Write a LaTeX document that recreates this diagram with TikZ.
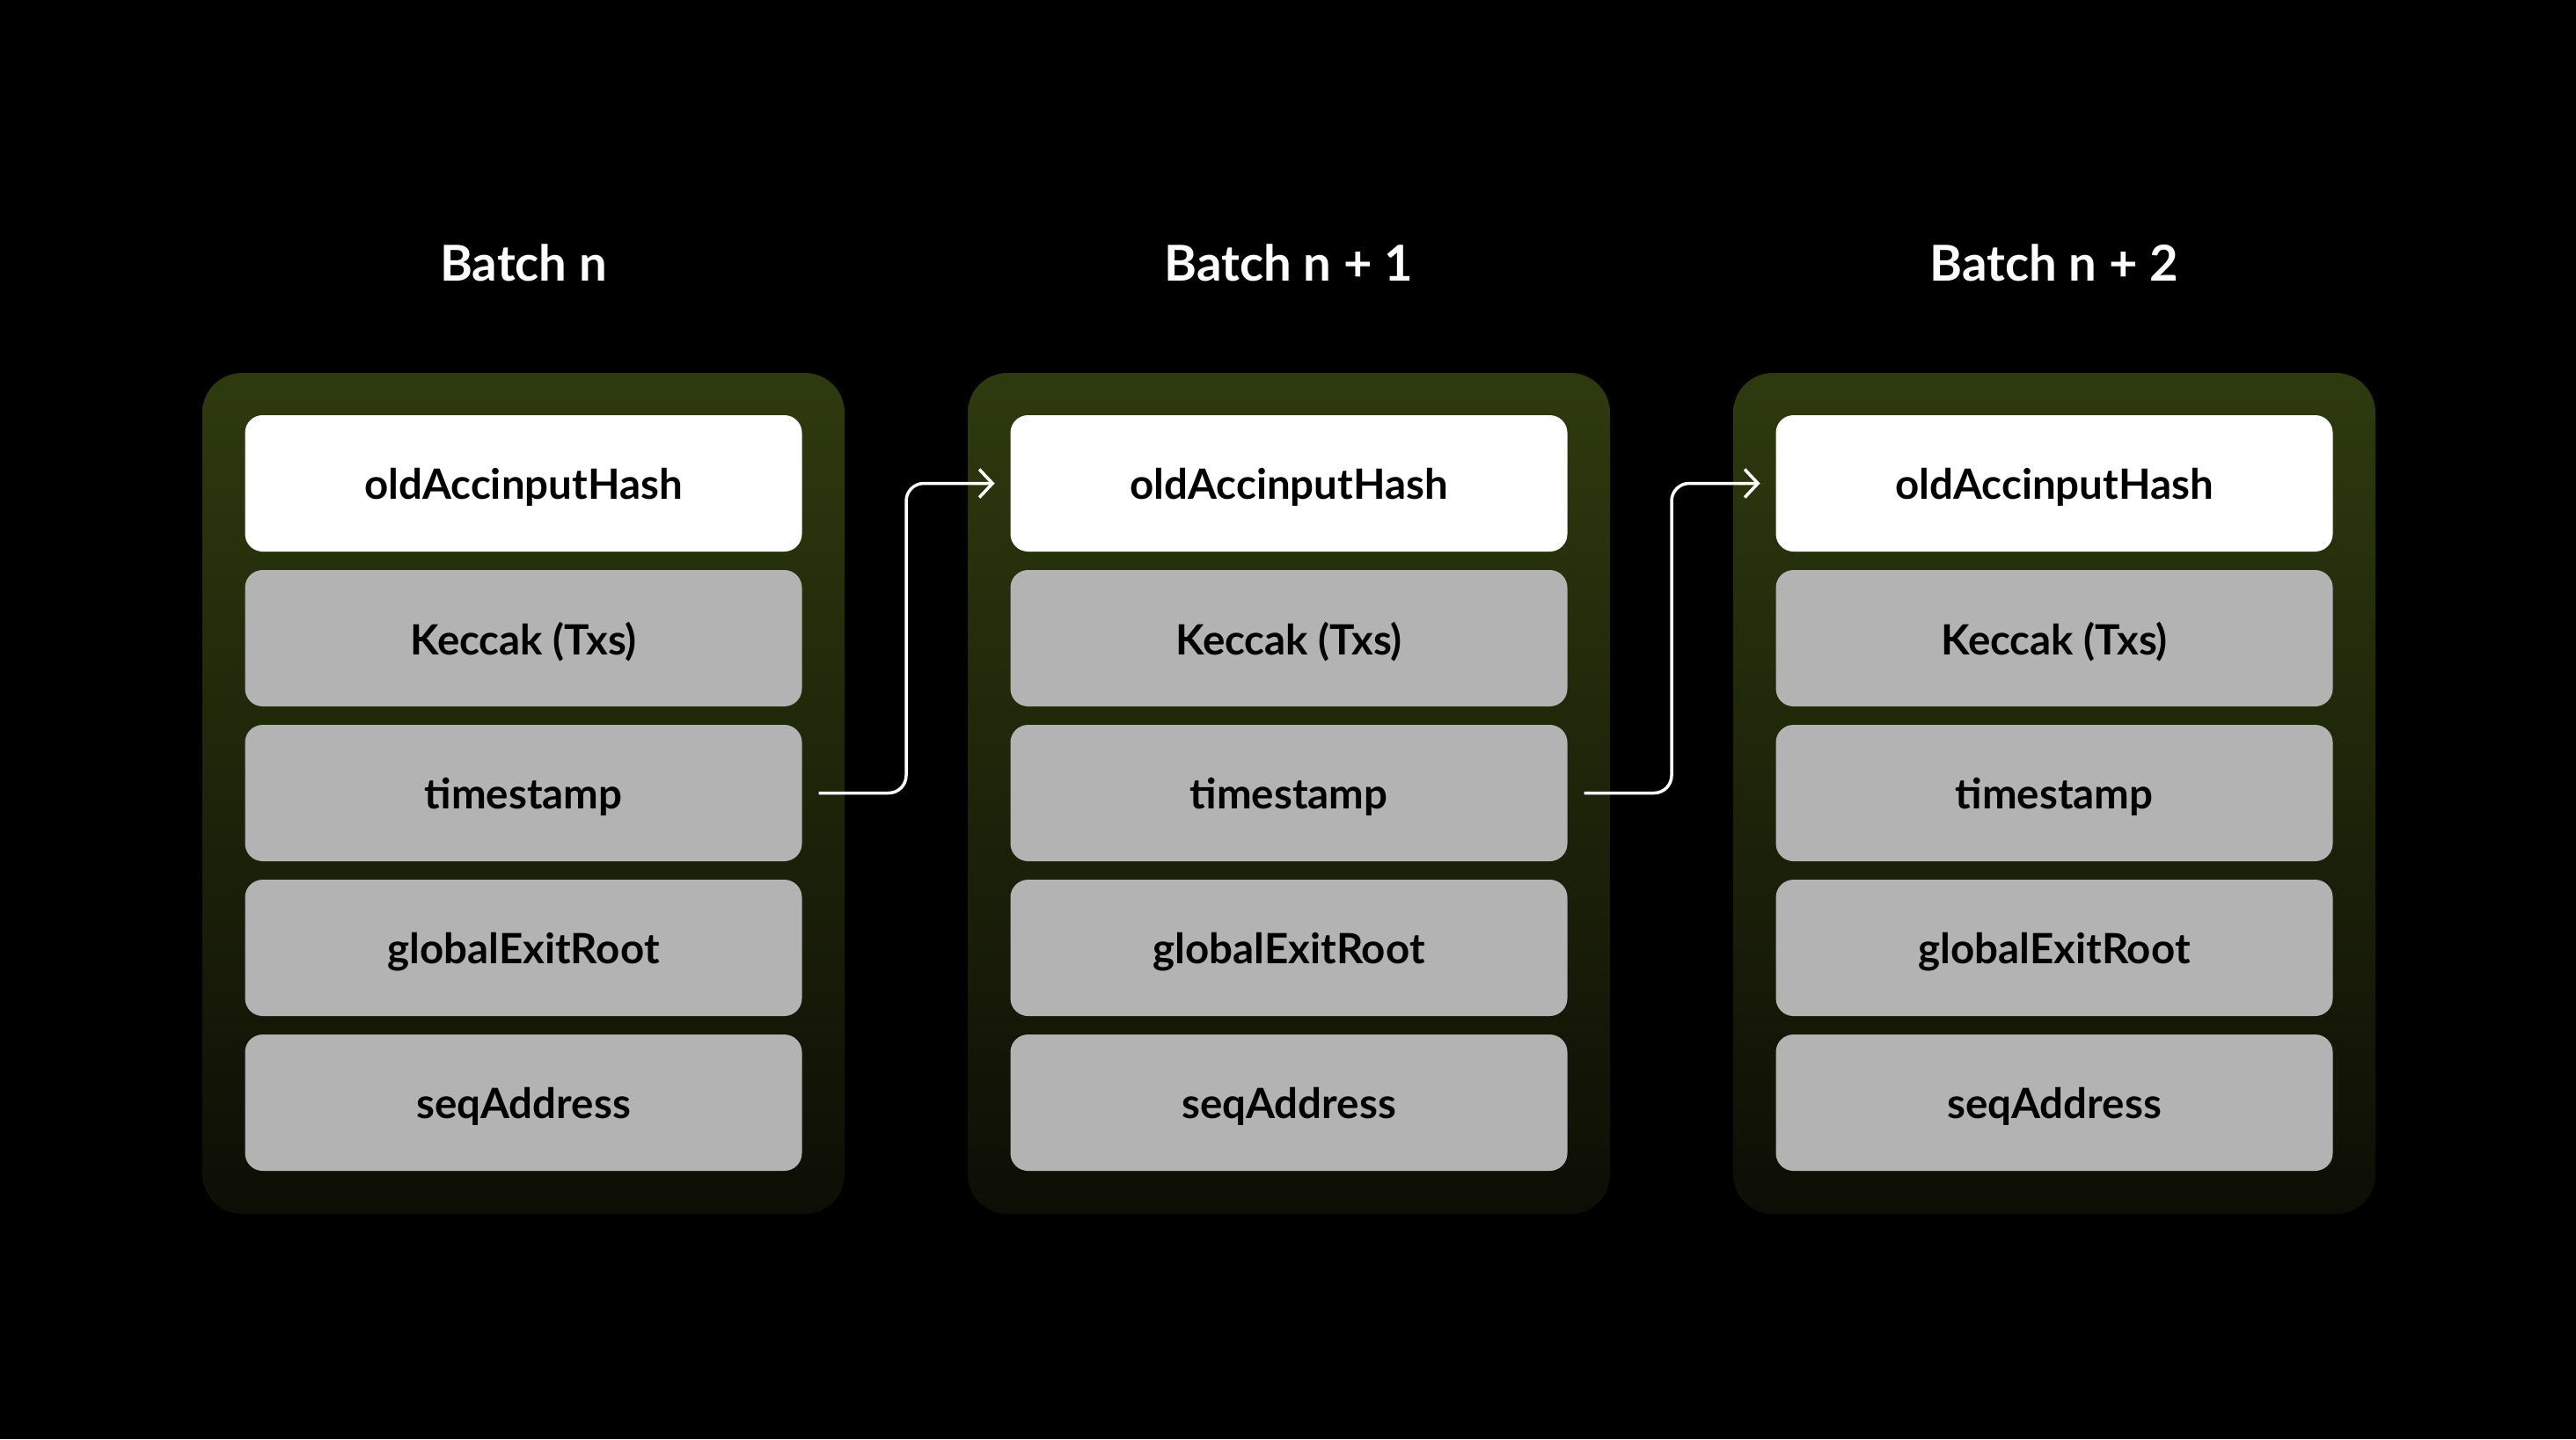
\documentclass[tikz,border=0pt]{standalone}
\usepackage{fontspec}
\setmainfont{Lato}
\usetikzlibrary{positioning}
\usetikzlibrary{calc}
\usetikzlibrary{arrows.meta}
\definecolor{moss}{RGB}{46,58,14}
\definecolor{mossdark}{RGB}{13,14,5}
\definecolor{fieldgray}{RGB}{179,179,179}

\begin{document}
\begin{tikzpicture}[
    node distance=0.21cm,
    >={Straight Barb[length=0.15cm,width=0.32cm]},
    % node styles
    panel/.style = {
      draw=none,
      rounded corners=0.45cm,
      minimum width=7.3cm,
      minimum height=9.56cm,
      outer sep=0pt,
      top color=moss,
      bottom color=mossdark
    },
    field/.style = {
      draw=none,
      rounded corners=0.2cm,
      minimum width=6.33cm,
      minimum height=1.55cm,
      inner sep=0pt,
      outer sep=0pt,
      text depth=0pt,
      fill=fieldgray,
      font=\bfseries\fontsize{13.5}{16}\selectfont,
      text=black
    },
    head/.style = {
      font=\bfseries\fontsize{16}{19}\selectfont,
      text depth=0pt,
      text=white
    },
    % arrow styles
    link/.style = {->, line width=1pt, draw=white, rounded corners=0.2cm}
  ]

  % --- Background
  \fill[black] (0,0) rectangle (29.28,-16.36);
  \useasboundingbox (0,0) rectangle (29.28,-16.36);

  % --- Panels
  \node[panel] (p1) at (5.95,-9.02) {};
  \node[panel, right=1.40cm of p1] (p2) {};
  \node[panel, right=1.40cm of p2] (p3) {};

  % --- Titles
  \node[head, above=1.25cm of p1.north, anchor=center] (t1) {Batch n};
  \node[head, above=1.25cm of p2.north, anchor=center] (t2) {Batch n + 1};
  \node[head, above=1.25cm of p3.north, anchor=center] (t3) {Batch n + 2};

  % --- Fields, batch n
  \node[field, fill=white, below=0.48cm of p1.north] (p1a) {oldAccinputHash};
  \node[field, below=of p1a] (p1b) {Keccak (Txs)};
  \node[field, below=of p1b] (p1c) {timestamp};
  \node[field, below=of p1c] (p1d) {globalExitRoot};
  \node[field, below=of p1d] (p1e) {seqAddress};

  % --- Fields, batch n + 1
  \node[field, fill=white, below=0.48cm of p2.north] (p2a) {oldAccinputHash};
  \node[field, below=of p2a] (p2b) {Keccak (Txs)};
  \node[field, below=of p2b] (p2c) {timestamp};
  \node[field, below=of p2c] (p2d) {globalExitRoot};
  \node[field, below=of p2d] (p2e) {seqAddress};

  % --- Fields, batch n + 2
  \node[field, fill=white, below=0.48cm of p3.north] (p3a) {oldAccinputHash};
  \node[field, below=of p3a] (p3b) {Keccak (Txs)};
  \node[field, below=of p3b] (p3c) {timestamp};
  \node[field, below=of p3c] (p3d) {globalExitRoot};
  \node[field, below=of p3d] (p3e) {seqAddress};

  % --- Arrows
  \coordinate (gapA) at ($(p1.east)!0.5!(p2.west)$);
  \coordinate (gapB) at ($(p2.east)!0.5!(p3.west)$);
  \draw[link, shorten <=0.19cm, shorten >=0.18cm]
    (p1c.east) -- (gapA |- p1c.east) -- (gapA |- p2a.west) -- (p2a.west);
  \draw[link, shorten <=0.19cm, shorten >=0.18cm]
    (p2c.east) -- (gapB |- p2c.east) -- (gapB |- p3a.west) -- (p3a.west);

\end{tikzpicture}
\end{document}
